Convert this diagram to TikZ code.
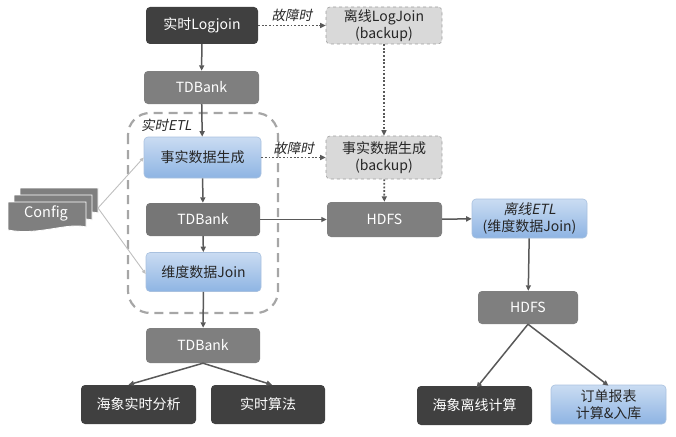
\documentclass[tikz,border=0pt]{standalone}
\usepackage{fontspec}
\setmainfont{Noto Sans CJK SC}
\newfontfamily\slantfont[FakeSlant=0.2]{Noto Sans CJK SC}
\usetikzlibrary{arrows.meta}
\definecolor{darkbox}{HTML}{404040}
\definecolor{greybox}{HTML}{7F7F7F}
\definecolor{tdbox}{HTML}{767676}
\definecolor{lightbox}{HTML}{D9D9D9}
\definecolor{bluetop}{HTML}{CADCF2}
\definecolor{bluebot}{HTML}{8EB4E3}
\definecolor{blueedge}{HTML}{A9C1DF}
\definecolor{arrowc}{HTML}{595959}
\definecolor{groupc}{HTML}{A6A6A6}
\definecolor{cfgline}{HTML}{BFBFBF}
\definecolor{textc}{HTML}{262626}
\tikzset{
  box/.style={rounded corners=4pt, minimum width=115pt, minimum height=35pt,
    align=center, inner sep=1pt, font=\fontsize{14}{17}\selectfont},
  darknode/.style={box, fill=darkbox, text=white},
  greynode/.style={box, fill=greybox, text=white},
  tdnode/.style={box, fill=tdbox, text=white},
  bluenode/.style={box, top color=bluetop, bottom color=bluebot, draw=blueedge, line width=0.6pt, text=textc},
  backupnode/.style={box, fill=lightbox, draw=gray!75, dashed, line width=0.6pt, text=textc},
  arr/.style={draw=arrowc, line width=1.5pt, -{Triangle[length=5.5pt,width=5pt]}},
  dotarr/.style={arr, line width=1.8pt, dash pattern=on 1.8pt off 1.8pt},
  cfgarr/.style={draw=cfgline, line width=0.9pt, -{Triangle[length=4pt,width=3.5pt]}},
  faillabel/.style={font=\slantfont\fontsize{13.5}{15}\selectfont, text=textc, inner sep=1pt},
  layer/.style={fill=greybox, draw=white, line width=0.8pt},
}
\begin{document}
\begin{tikzpicture}[x=1pt,y=-1pt]
\useasboundingbox (0,0) rectangle (676,436);

% group of the real-time ETL
\draw[groupc, line width=2.2pt, dash pattern=on 9pt off 6pt, rounded corners=22pt]
  (128,113) rectangle (278,313);
\node[faillabel, anchor=west] (etllabel) at (140,125) {实时ETL};

% Config stack
\path[layer] (20,188) -- (98,188) -- (98,213) .. controls (80,208) and (50,222) .. (20,216) -- cycle;
\path[layer] (14,195) -- (92,195) -- (92,220) .. controls (74,215) and (44,229) .. (14,223) -- cycle;
\path[layer] (8,202) -- (86,202) -- (86,227) .. controls (68,222) and (38,236) .. (8,230) -- cycle;
\node[text=white, font=\fontsize{14.5}{17}\selectfont] (cfg) at (46,213) {Config};
\coordinate (cfgtip) at (98,208);

% nodes
\node[darknode, minimum width=112pt, minimum height=37pt] (lj) at (202,25.5) {实时Logjoin};
\node[greynode, minimum height=33pt] (td1) at (201.5,87.5) {TDBank};
\node[backupnode, minimum width=116pt, minimum height=37pt] (lb) at (384,25.5) {离线LogJoin\\(backup)};
\node[bluenode, minimum width=117pt, minimum height=41pt] (fact) at (202.5,157.5) {事实数据生成};
\node[backupnode, minimum width=116pt, minimum height=43pt] (fb) at (384,157.5) {事实数据生成\\(backup)};
\node[tdnode, minimum width=114pt, minimum height=33pt] (td2) at (203,219.5) {TDBank};
\node[greynode, minimum height=35pt] (hdfs1) at (384.5,219.5) {HDFS};
\node[bluenode, minimum height=39pt] (oetl) at (529.5,218.5) {{\slantfont 离线ETL}\\(维度数据Join)};
\node[bluenode, minimum height=39pt] (dim) at (203.5,272) {维度数据Join};
\node[greynode, minimum width=100pt, minimum height=33pt] (hdfs2) at (528,307.5) {HDFS};
\node[greynode, minimum width=114pt, minimum height=35pt] (td3) at (203,345.5) {TDBank};
\node[darknode, minimum height=39pt] (hxs) at (138.5,404.5) {海象实时分析};
\node[darknode, minimum width=114pt, minimum height=39pt] (rt) at (268,404.5) {实时算法};
\node[darknode, minimum height=39pt] (hxl) at (474.5,405.5) {海象离线计算};
\node[bluenode, minimum height=39pt] (order) at (608.5,404.5) {订单报表\\计算\&入库};

% connectors
\draw[arr] (lj) -- (td1);
\draw[dotarr] (lj) -- node[faillabel, above=2pt] (fl1) {故障时} (lb);
\draw[dotarr] (lb) -- (fb);
\draw[arr] (td1) -- (fact);
\draw[dotarr] (fact) -- node[faillabel, above=1pt] (fl2) {故障时} (fb);
\draw[dotarr] (fb) -- (hdfs1);
\draw[arr] (fact) -- (td2);
\draw[arr] (td2) -- (dim);
\draw[arr] (td2) -- (hdfs1);
\draw[arr] (hdfs1) -- (oetl);
\draw[arr] (oetl) -- (hdfs2);
\draw[arr] (hdfs2.south) -- ([xshift=2pt,yshift=-2pt]hxl.north);
\draw[arr] (hdfs2.south) -- ([yshift=-1pt]order.north);
\draw[arr] (dim) -- (td3);
\draw[arr] (td3.south) -- ([xshift=-10pt]hxs.north);
\draw[arr] (td3.south) -- ([xshift=4pt]rt.north);
\draw[cfgarr] (cfgtip) -- (fact.west);
\draw[cfgarr] (cfgtip) -- ([yshift=-2pt]dim.west);
\end{tikzpicture}
\end{document}
